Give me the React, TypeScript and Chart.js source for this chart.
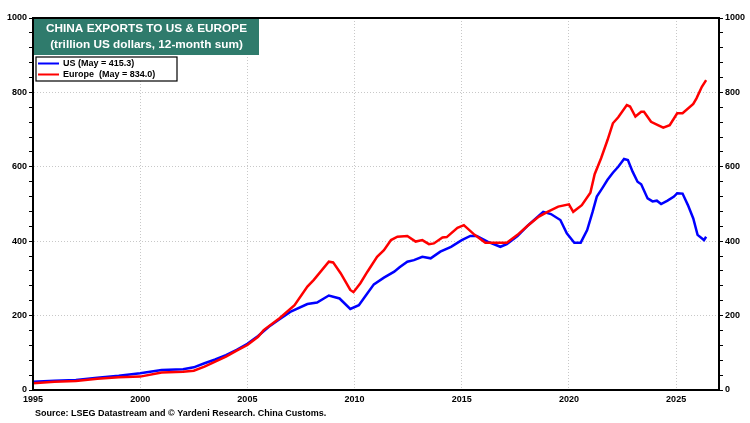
import React, { useEffect, useRef } from "react";
import { Chart, registerables } from "chart.js";

Chart.register(...registerables);

const usDates = [
  1995.0, 1996.0, 1997.0, 1998.0, 1999.0, 2000.0, 2001.0, 2002.0, 2002.5, 2003.0, 2003.5, 2004.0, 2004.5,
  2005.0, 2005.5, 2006.0, 2006.5, 2007.0, 2007.8, 2008.25, 2008.8, 2009.3, 2009.8, 2010.2, 2010.6, 2010.9,
  2011.37, 2011.85, 2012.1, 2012.46, 2012.77, 2013.16, 2013.55, 2014.0, 2014.5, 2015.0, 2015.4, 2015.7,
  2016.2, 2016.8, 2017.1, 2017.6, 2018.1, 2018.8, 2019.16, 2019.6, 2019.9, 2020.25, 2020.55, 2020.85,
  2021.1, 2021.3, 2021.55, 2021.8, 2022.05, 2022.3, 2022.57, 2022.75, 2022.97, 2023.2, 2023.37, 2023.67,
  2023.9, 2024.1, 2024.3, 2024.6, 2024.9, 2025.05, 2025.3, 2025.55, 2025.8, 2026.0, 2026.3, 2026.4,
];
const usValues = [
  22, 25, 27, 33, 38, 45, 54, 56, 61, 72, 82, 94, 108,
  124, 145, 170, 190, 210, 231, 235, 254, 246, 218, 228, 260, 284,
  302, 318, 330, 345, 349, 358, 354, 372, 385, 403, 414, 414,
  399, 385, 392, 414, 443, 479, 473, 457, 421, 396, 396, 430,
  478, 520, 542, 565, 584, 600, 621, 618, 587, 560, 553, 515,
  507, 509, 500, 509, 520, 529, 528, 497, 461, 417, 403, 412,
];

const euDates = [
  1995.0, 1996.0, 1997.0, 1998.0, 1999.0, 2000.0, 2001.0, 2002.0, 2002.5, 2003.0, 2003.5, 2004.0, 2004.5,
  2005.0, 2005.5, 2005.76, 2006.5, 2007.2, 2007.8, 2008.1, 2008.8, 2009.0, 2009.35, 2009.8, 2009.95,
  2010.27, 2010.6, 2011.05, 2011.37, 2011.7, 2012.0, 2012.46, 2012.85, 2013.16, 2013.47, 2013.7, 2014.1,
  2014.3, 2014.8, 2015.1, 2015.2, 2015.6, 2016.1, 2016.8, 2017.1, 2017.6, 2018.1, 2018.6, 2019.0, 2019.5,
  2020.0, 2020.2, 2020.6, 2021.0, 2021.2, 2021.5, 2021.8, 2022.05, 2022.3, 2022.7, 2022.85, 2023.1,
  2023.37, 2023.5, 2023.83, 2024.15, 2024.4, 2024.7, 2025.05, 2025.3, 2025.8, 2025.95, 2026.2, 2026.4,
];
const euValues = [
  18, 22, 24, 30, 34, 36, 47, 49, 52, 63, 76, 90, 106,
  121, 143, 161, 193, 228, 278, 296, 345, 343, 314, 269, 263,
  287, 318, 358, 376, 403, 412, 414, 399, 403, 392, 394, 410,
  411, 436, 443, 438, 417, 396, 396, 396, 417, 443, 466, 479, 493,
  499, 479, 497, 530, 580, 623, 672, 717, 733, 766, 762, 735,
  748, 748, 721, 712, 705, 712, 744, 744, 769, 784, 815, 833,
];

const xTickYears = [1995, 2000, 2005, 2010, 2015, 2020, 2025];
const yTickValues = [0, 200, 400, 600, 800, 1000];

const titleLines = ["CHINA EXPORTS TO US & EUROPE", "(trillion US dollars, 12-month sum)"];
const legendLabels = ["US (May = 415.3)", "Europe  (May = 834.0)"];
const sourceText = "Source: LSEG Datastream and \u00A9 Yardeni Research. China Customs.";

const BLUE = "#0000FF";
const RED = "#FF0000";
const FONT = "Liberation Sans, Arial, sans-serif";
const GRID = "#C8C8C8";

const overlayPlugin = {
  id: "overlay",
  afterDraw(chart: any) {
    const { ctx, chartArea } = chart;
    const { left, right, top, bottom } = chartArea;
    ctx.save();
    // frame
    ctx.strokeStyle = "#000";
    ctx.lineWidth = 2;
    ctx.strokeRect(left, top, right - left, bottom - top);

    // title box
    ctx.fillStyle = "#2F7B6C";
    ctx.fillRect(left + 1, top + 1, 225, 36);
    ctx.fillStyle = "#FFFFFF";
    ctx.font = `bold 11.8px ${FONT}`;
    ctx.textAlign = "center";
    ctx.textBaseline = "middle";
    ctx.fillText(titleLines[0], left + 1 + 112.5, top + 11);
    ctx.fillText(titleLines[1], left + 1 + 112.5, top + 27);

    // legend box
    ctx.fillStyle = "#FFFFFF";
    ctx.fillRect(left + 3, top + 39, 141, 24);
    ctx.strokeStyle = "#000";
    ctx.lineWidth = 1.2;
    ctx.strokeRect(left + 3, top + 39, 141, 24);
    const colors = [BLUE, RED];
    ctx.font = `bold 9px ${FONT}`;
    ctx.textAlign = "left";
    for (let i = 0; i < 2; i++) {
      const yy = top + 45.5 + i * 11;
      ctx.strokeStyle = colors[i];
      ctx.lineWidth = 2;
      ctx.beginPath();
      ctx.moveTo(left + 5, yy);
      ctx.lineTo(left + 26, yy);
      ctx.stroke();
      ctx.fillStyle = "#000";
      ctx.fillText(legendLabels[i], left + 30, yy + 0.5);
    }

    // source
    ctx.font = `bold 9px ${FONT}`;
    ctx.fillStyle = "#000";
    ctx.textAlign = "left";
    ctx.textBaseline = "middle";
    ctx.fillText(sourceText, left + 2, bottom + 24);
    ctx.restore();
  },
};

export default function App() {
  const ref = useRef<HTMLCanvasElement | null>(null);

  useEffect(() => {
    document.body.style.margin = "0";
    if (!ref.current) return;
    const usData = usDates.map((d, i) => ({ x: d, y: usValues[i] }));
    const euData = euDates.map((d, i) => ({ x: d, y: euValues[i] }));

    const minorY: number[] = [];
    for (let v = 0; v <= 1000; v += 40) minorY.push(v);
    const yTicksAll = Array.from(new Set([...minorY, ...yTickValues])).sort((a, b) => a - b);

    const yCommon = (position: "left" | "right", width: number): any => ({
      type: "linear",
      position,
      min: 0,
      max: 1000,
      afterBuildTicks: (scale: any) => {
        scale.ticks = yTicksAll.map((v) => ({ value: v }));
      },
      afterFit: (scale: any) => {
        scale.width = width;
      },
      border: { display: true, color: "#000", width: 2, dash: [1, 2] },
      grid: {
        display: true,
        drawOnChartArea: position === "left",
        color: (c: any) =>
          c.tick && c.tick.value % 200 === 0 && c.tick.value !== 0 && c.tick.value !== 1000
            ? GRID
            : "rgba(0,0,0,0)",
        tickColor: "#000",
        tickLength: 4,
        lineWidth: 1,
        tickWidth: 1,
      },
      ticks: {
        padding: 2,
        autoSkip: false,
        color: "#000",
        font: { family: FONT, size: 9, weight: "bold" },
        callback: (v: any) => (yTickValues.includes(Number(v)) ? String(v) : ""),
      },
    });

    const chart = new Chart(ref.current, {
      type: "line",
      data: {
        datasets: [
          {
            label: "Europe",
            data: euData,
            borderColor: RED,
            backgroundColor: RED,
            borderWidth: 2.5,
            pointRadius: 0,
            tension: 0,
            yAxisID: "y",
          },
          {
            label: "US",
            data: usData,
            borderColor: BLUE,
            backgroundColor: BLUE,
            borderWidth: 2.5,
            pointRadius: 0,
            tension: 0,
            yAxisID: "y",
          },
        ],
      },
      options: {
        animation: false,
        responsive: true,
        maintainAspectRatio: false,
        layout: { padding: { top: 18, left: 0, right: 0, bottom: 0 } },
        plugins: {
          legend: { display: false },
          title: { display: false },
          tooltip: { enabled: false },
        },
        scales: {
          x: {
            type: "linear",
            min: 1995,
            max: 2027,
            afterBuildTicks: (scale: any) => {
              scale.ticks = xTickYears.map((v) => ({ value: v }));
            },
            afterFit: (scale: any) => {
              scale.height = 33;
            },
            border: { display: true, color: "#000", width: 2, dash: [1, 2] },
            grid: {
              display: true,
              color: (c: any) => (c.tick && c.tick.value !== 1995 ? GRID : "rgba(0,0,0,0)"),
              tickColor: "rgba(0,0,0,0)",
              tickLength: 2,
              lineWidth: 1,
            },
            ticks: {
              padding: 2,
              autoSkip: false,
              maxRotation: 0,
              color: "#000",
              font: { family: FONT, size: 9, weight: "bold" },
              callback: (v: any) => String(v),
            },
          } as any,
          y: yCommon("left", 33),
          y2: yCommon("right", 31),
        },
      },
      plugins: [overlayPlugin],
    });
    return () => chart.destroy();
  }, []);

  return (
    <div style={{ width: 750, height: 423, position: "relative", background: "#fff" }}>
      <canvas ref={ref} />
    </div>
  );
}
